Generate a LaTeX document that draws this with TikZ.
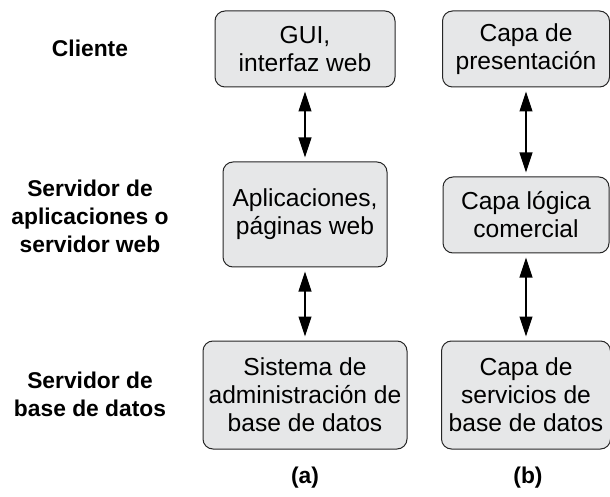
\documentclass[tikz,border=0pt]{standalone}
\usepackage{fontspec}
\setmainfont{Liberation Sans}
\usetikzlibrary{arrows.meta}
\definecolor{cajagris}{RGB}{230,231,232}
\tikzset{
  caja/.style={draw=black!85, fill=cajagris, rounded corners=5pt, line width=0.5pt,
    align=center, inner sep=0pt, font=\fontsize{12.3}{14}\selectfont},
  rotulo/.style={align=center, font=\fontsize{11.4}{14}\selectfont\bfseries},
  flecha/.style={{Triangle[length=10pt,width=6.5pt]}-{Triangle[length=10pt,width=6.5pt]},
    line width=0.55pt, shorten >=2pt, shorten <=2pt}
}
\begin{document}
\begin{tikzpicture}[x=0.5pt,y=-0.5pt]
\useasboundingbox (0,0) rectangle (610,497);
\node[rotulo] (cli) at (90,48) {Cliente};
\node[rotulo] (srvapl) at (90,216) {Servidor de\\aplicaciones o\\servidor web};
\node[rotulo] (srvbd) at (90,394) {Servidor de\\base de datos};
\node[caja,minimum width=90pt,minimum height=38pt] (gui) at (305,49) {GUI,\\interfaz web};
\node[caja,minimum width=82pt,minimum height=52.5pt] (apl) at (305,214.5) {Aplicaciones,\\páginas web};
\node[caja,minimum width=102pt,minimum height=54pt] (sgbd) at (305,395) {Sistema de\\administración de\\base de datos};
\node[caja,minimum width=83.5pt,minimum height=38pt] (pres) at (526,49) {Capa de\\presentación};
\node[caja,minimum width=83pt,minimum height=38pt] (logica) at (526,215) {Capa lógica\\comercial};
\node[caja,minimum width=84.5pt,minimum height=54pt] (servbd) at (526,395) {Capa de\\servicios de\\base de datos};
\draw[flecha] (gui) -- (apl);
\draw[flecha] (apl) -- (sgbd);
\draw[flecha] (pres) -- (logica);
\draw[flecha] (logica) -- (servbd);
\node[rotulo] (a) at (305,478) {(a)};
\node[rotulo] (b) at (528,478) {(b)};
\end{tikzpicture}
\end{document}
